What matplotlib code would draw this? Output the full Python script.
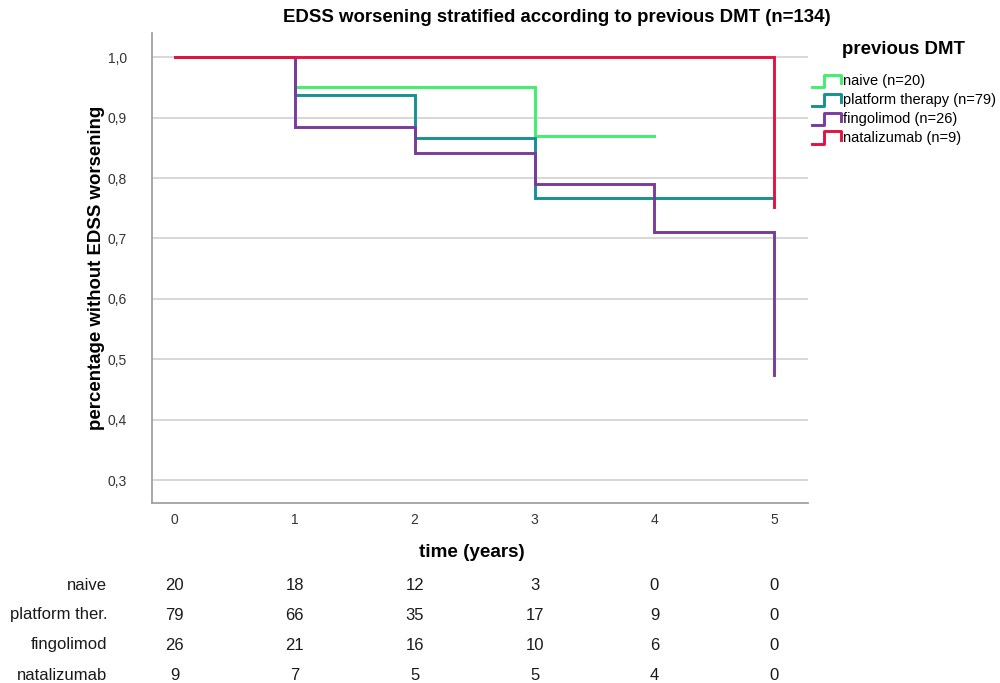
import matplotlib.pyplot as plt
from matplotlib.legend_handler import HandlerBase
from matplotlib.lines import Line2D
import matplotlib.transforms as mtransforms

# Kaplan-Meier style step curves
groups = ["naive (n=20)", "platform therapy (n=79)", "fingolimod (n=26)", "natalizumab (n=9)"]
colors = ["#3ef06c", "#169191", "#7a3b9c", "#e3123f"]

naive_t = [0, 1, 3, 4]
naive_s = [1.0, 0.95, 0.87, 0.87]
platform_t = [0, 1, 2, 3, 5]
platform_s = [1.0, 0.937, 0.866, 0.767, 0.767]
fingo_t = [0, 1, 2, 3, 4, 5]
fingo_s = [1.0, 0.885, 0.842, 0.79, 0.711, 0.474]
natal_t = [0, 5]
natal_s = [1.0, 0.752]

# number at risk table
risk_labels = ["naive", "platform ther.", "fingolimod", "natalizumab"]
risk_times = [0, 1, 2, 3, 4, 5]
risk_naive = [20, 18, 12, 3, 0, 0]
risk_platform = [79, 66, 35, 17, 9, 0]
risk_fingo = [26, 21, 16, 10, 6, 0]
risk_natal = [9, 7, 5, 5, 4, 0]

yticks = [0.3, 0.4, 0.5, 0.6, 0.7, 0.8, 0.9, 1.0]
xticks = [0, 1, 2, 3, 4, 5]

plt.rcParams['font.family'] = ['Liberation Sans', 'DejaVu Sans']


def km_xy(t, s):
    # build step coordinates: horizontal to next time, then vertical drop
    xs, ys = [t[0]], [s[0]]
    for i in range(1, len(t)):
        xs.append(t[i]); ys.append(ys[-1])
        xs.append(t[i]); ys.append(s[i])
    return xs, ys


class StepHandler(HandlerBase):
    def create_artists(self, legend, orig, xdescent, ydescent, width, height, fontsize, trans):
        x0, x1 = -xdescent, -xdescent + width
        y0, y1 = -ydescent - 0.05 * height, -ydescent + 0.95 * height
        xm = x0 + width * 0.4
        ln = Line2D([x0, xm, xm, x1, x1], [y0, y0, y1, y1, y0 + 0.3 * height],
                    color=orig.get_color(), lw=orig.get_linewidth(), transform=trans)
        return [ln]


fig = plt.figure(figsize=(10, 6.83), dpi=100)
ax = fig.add_axes([0.152, 0.2635, 0.656, 0.688])

series = [(naive_t, naive_s), (platform_t, platform_s), (fingo_t, fingo_s), (natal_t, natal_s)]
handles = []
for (t, s), c, g in zip(series, colors, groups):
    xs, ys = km_xy(t, s)
    h, = ax.plot(xs, ys, color=c, lw=2.1, label=g, solid_joinstyle='miter')
    handles.append(h)

ax.set_xlim(-0.19, 5.28)
ax.set_ylim(0.262, 1.04)
ax.set_yticks(yticks)
ax.set_yticklabels([f"{v:.1f}".replace(".", ",") for v in yticks])
ax.set_xticks(xticks)
ax.tick_params(length=0, labelsize=10, colors="#333333", pad=7)
ax.tick_params(axis='y', pad=18)
ax.grid(axis='y', color="#d4d4d4", lw=1.3)
ax.set_axisbelow(True)
for sp in ["top", "right"]:
    ax.spines[sp].set_visible(False)
for sp in ["left", "bottom"]:
    ax.spines[sp].set_color("#9a9a9a")
    ax.spines[sp].set_linewidth(1.2)

fig.text(0.557, 1 - 18 / 683, "EDSS worsening stratified according to previous DMT (n=134)",
         fontsize=13.4, fontweight="bold", ha="center", va="center")
ax.set_ylabel("percentage without EDSS worsening", fontsize=13.4, fontweight="bold")
ax.yaxis.set_label_coords(-0.072, 0.5)
ax.set_xlabel("time (years)", fontsize=13.6, fontweight="bold")
ax.xaxis.set_label_coords(0.488, -0.087)

fig.text(0.904, 1 - 49 / 683, "previous DMT", fontsize=13.4, fontweight="bold",
         ha="center", va="center")
leg = fig.legend(handles=handles, labels=groups, loc="upper left", bbox_to_anchor=(0.806, 0.9),
                 frameon=False, fontsize=10.5, handlelength=2.0, handleheight=0.9,
                 handletextpad=0.12, labelspacing=0.33, borderaxespad=0,
                 handler_map={Line2D: StepHandler()})

# number at risk table under the x-axis
trans = mtransforms.blended_transform_factory(ax.transData, fig.transFigure)
risk_rows = [risk_naive, risk_platform, risk_fingo, risk_natal]
row_y = [1 - 585 / 683, 1 - 615 / 683, 1 - 645 / 683, 1 - 675 / 683]
tfont = ['Liberation Sans', 'DejaVu Sans']
for lab, vals, yy in zip(risk_labels, risk_rows, row_y):
    fig.text(0.107, yy, lab, ha="right", va="center", fontsize=12, family=tfont, color="#1a1a1a")
    for tx, v in zip(risk_times, vals):
        fig.text(tx, yy, str(v), transform=trans, ha="center", va="center",
                 fontsize=12, family=tfont, color="#1a1a1a")

fig.savefig("out.png", dpi=100)
